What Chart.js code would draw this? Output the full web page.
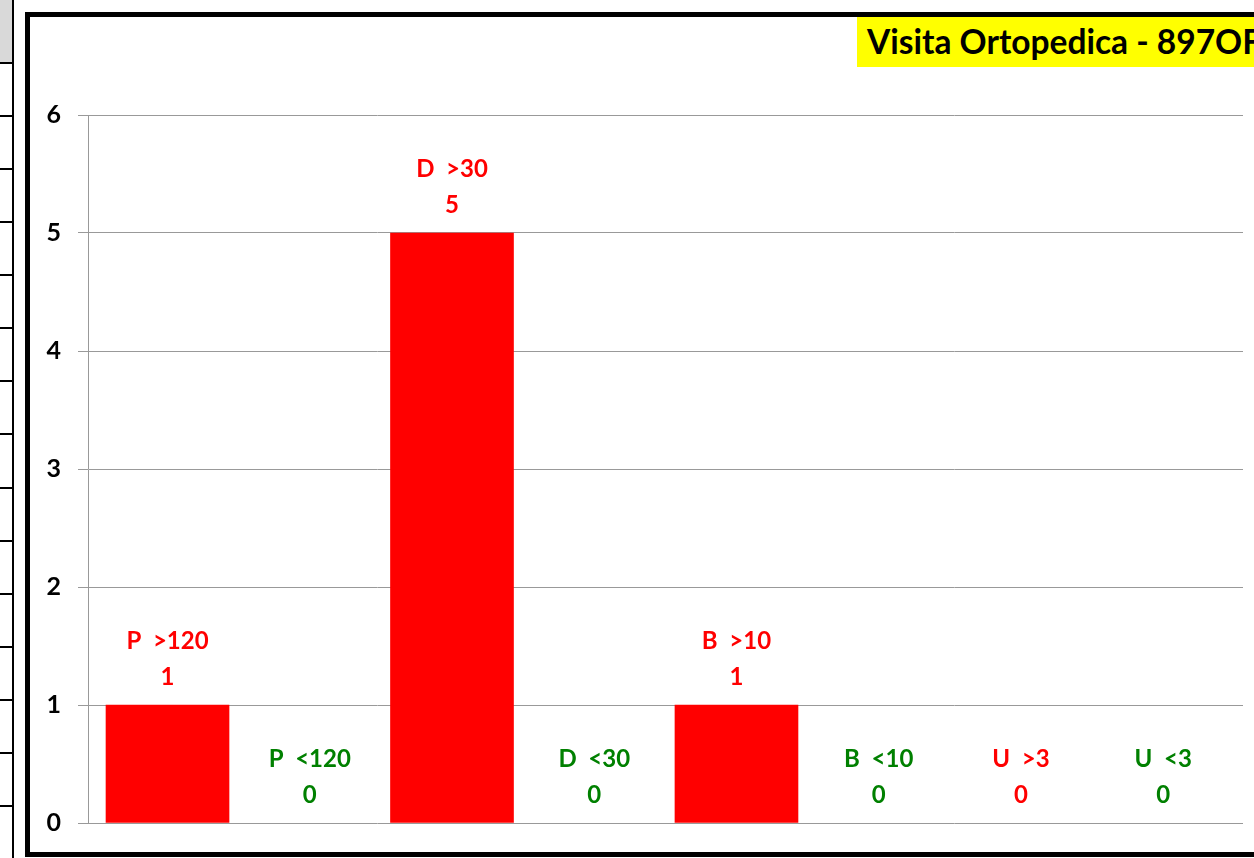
<!DOCTYPE html>
<html>
<head>
<meta charset="utf-8">
<script src="https://cdn.jsdelivr.net/npm/chart.js@4.4.1/dist/chart.umd.min.js"></script>
<style>
  html, body { margin: 0; padding: 0; background: #fff; overflow: hidden; }
  body { width: 1254px; height: 858px; position: relative; font-family: Lato, "Open Sans", sans-serif; }
  #strip {
    position: absolute; left: 0; top: 0; width: 12px; height: 858px;
    border-right: 2px solid #000;
    background:
      linear-gradient(#d9d9d9, #d9d9d9) 0 0 / 12px 62px no-repeat,
      repeating-linear-gradient(to bottom, transparent 0, transparent 8.9px, #000 8.9px, #000 10.9px, transparent 10.9px, transparent 53.07px);
  }
  #frame {
    position: absolute; left: 25px; top: 12px; width: 1300px; height: 835px;
    border: 5px solid #000; box-sizing: content-box;
  }
  #title {
    position: absolute; left: 857px; top: 17px; height: 50px; width: 500px;
    background: #ffff00; font-weight: bold; font-size: 33.5px; line-height: 48px;
    padding-left: 10px; white-space: nowrap; color: #000;
  }
  #wrap { position: absolute; left: 0; top: 0; width: 1254px; height: 858px; }
</style>
</head>
<body>
<div id="strip"></div>
<div id="frame"></div>
<div id="wrap"><canvas id="barChart"></canvas></div>
<div id="title">Visita Ortopedica - 897OF</div>
<script>
const categories = ["P  >120", "P  <120", "D  >30", "D  <30", "B  >10", "B  <10", "U  >3", "U  <3"];
const counts = [1, 0, 5, 0, 1, 0, 0, 0];
const colours = ["#ff0000", "#008000", "#ff0000", "#008000", "#ff0000", "#008000", "#ff0000", "#008000"];
const yTicks = [0, 1, 2, 3, 4, 5, 6];

const points = counts.map((v, i) => ({ x: i, y: v }));

// two-line label above each bar: category then value
const barLabels = {
    id: 'barLabels',
    afterDatasetsDraw(chart) {
        const ctx = chart.ctx;
        const meta = chart.getDatasetMeta(0);
        ctx.save();
        ctx.font = 'bold 24px Lato, "Open Sans", sans-serif';
        ctx.textAlign = 'center';
        ctx.textBaseline = 'middle';
        meta.data.forEach((bar, i) => {
            ctx.fillStyle = colours[i];
            ctx.fillText(categories[i], bar.x, bar.y - 64);
            ctx.fillText(String(counts[i]), bar.x, bar.y - 28);
        });
        ctx.restore();
    }
};

const ctx = document.querySelector('#barChart').getContext('2d');
const barChart = new Chart(ctx, {
    type: 'bar',
    data: {
        datasets: [{
            data: points,
            // zero bars would leave a hairline on the axis
            backgroundColor: c => (c.raw && c.raw.y === 0) ? 'rgba(0,0,0,0)' : colours[c.dataIndex],
            barThickness: 123
        }]
    },
    options: {
        responsive: true,
        maintainAspectRatio: false,
        animation: false,
        layout: { padding: { left: 30, top: 115, right: 11, bottom: 35 } },
        plugins: { legend: { display: false }, tooltip: { enabled: false } },
        scales: {
            x: {
                type: 'linear',
                min: -0.559,
                max: 7.561,
                offset: false,
                display: false
            },
            y: {
                min: yTicks[0],
                max: yTicks[yTicks.length - 1],
                afterFit(scale) { scale.width = 58; },
                afterBuildTicks(scale) { scale.ticks = yTicks.map(v => ({ value: v })); },
                ticks: {
                    padding: 17,
                    color: '#000',
                    font: { family: 'Lato, "Open Sans", sans-serif', size: 25, weight: 'bold' }
                },
                grid: { color: '#999999', tickColor: '#999999', tickLength: 10, lineWidth: 1 },
                border: { color: '#999999', width: 1 }
            }
        }
    },
    plugins: [barLabels]
});
</script>
</body>
</html>
